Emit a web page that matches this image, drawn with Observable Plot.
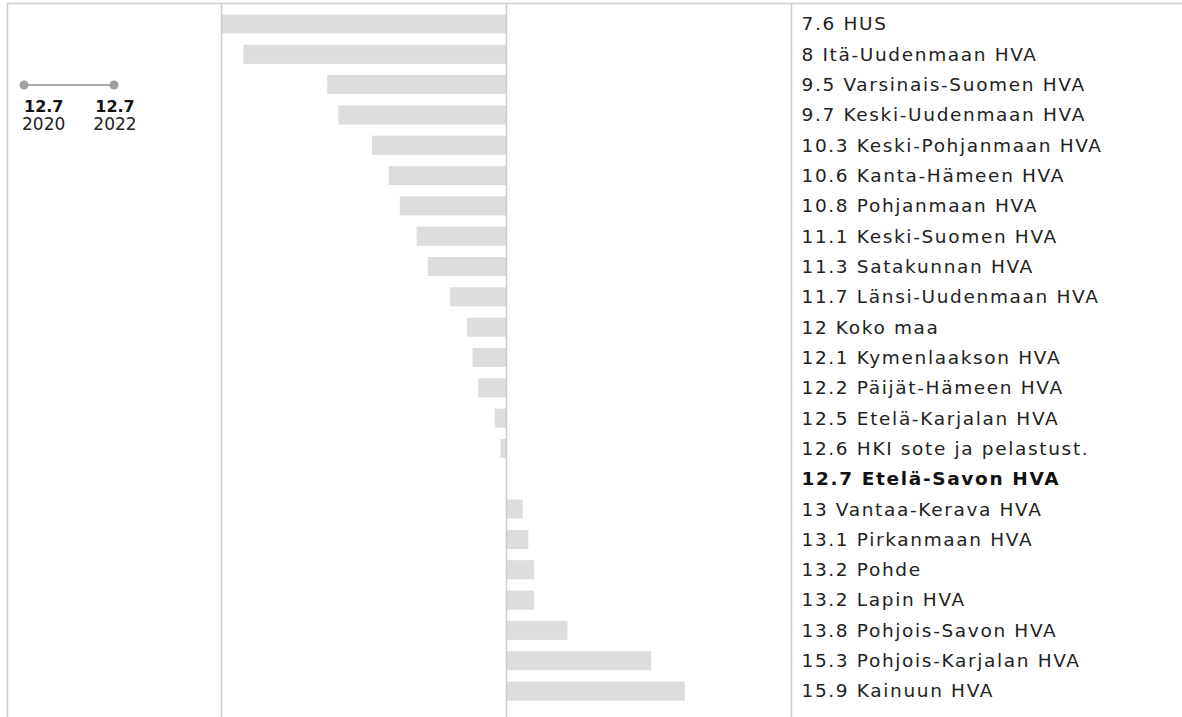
<!DOCTYPE html>
<html><head><meta charset="utf-8">
<script src="https://cdn.jsdelivr.net/npm/d3@7"></script>
<script src="https://cdn.jsdelivr.net/npm/@observablehq/plot@0.6"></script>
<style>
body{margin:0;background:#fff;}
#chart{position:relative;width:1182px;height:717px;overflow:hidden;}
</style></head><body><div id="chart"></div>
<script>
const names = ["HUS","Itä-Uudenmaan HVA","Varsinais-Suomen HVA","Keski-Uudenmaan HVA","Keski-Pohjanmaan HVA","Kanta-Hämeen HVA","Pohjanmaan HVA","Keski-Suomen HVA","Satakunnan HVA","Länsi-Uudenmaan HVA","Koko maa","Kymenlaakson HVA","Päijät-Hämeen HVA","Etelä-Karjalan HVA","HKI sote ja pelastust.","Etelä-Savon HVA","Vantaa-Kerava HVA","Pirkanmaan HVA","Pohde","Lapin HVA","Pohjois-Savon HVA","Pohjois-Karjalan HVA","Kainuun HVA"];
const values = [7.6,8,9.5,9.7,10.3,10.6,10.8,11.1,11.3,11.7,12,12.1,12.2,12.5,12.6,12.7,13,13.1,13.2,13.2,13.8,15.3,15.9];
const highlight = "Etelä-Savon HVA";
const legendYears = [2020, 2022];
const legendValues = [12.7, 12.7];

const ref = values[names.indexOf(highlight)];
const maxDev = d3.max(values, v => Math.abs(v - ref));
const data = names.map((n, i) => ({name: n, value: values[i]}));
const label = d => `${d.value} ${d.name}`;

const plot = Plot.plot({
  width: 1182, height: 717,
  marginLeft: 221, marginRight: 391, marginTop: 3, marginBottom: 0,
  style: {fontFamily: "DejaVu Sans", background: "#fff"},
  x: {domain: [ref - maxDev, ref + maxDev], axis: null},
  y: {domain: names, range: [3.2, 711.8], padding: 0.37, round: false, axis: null},
  marks: [
    Plot.barX(data, {y: "name", x1: ref, x2: "value", fill: "#dddddd"}),
    Plot.ruleX([ref - maxDev, ref, ref + maxDev], {stroke: "#cccccc", strokeWidth: 1.5}),
    Plot.text(data.filter(d => d.name !== highlight), {y: "name", x: ref + maxDev, dx: 10, textAnchor: "start", text: label, fontSize: 18.5, fill: "#222"}),
    Plot.text(data.filter(d => d.name === highlight), {y: "name", x: ref + maxDev, dx: 10, textAnchor: "start", text: label, fontSize: 18.5, fontWeight: "bold", fill: "#111"})
  ]
});
document.getElementById("chart").appendChild(plot);

const svg = d3.select(plot);
// wider letter spacing on the value labels
svg.selectAll("g[aria-label='text']").attr("letter-spacing", "1.65px");

// decorative frame lines and legend
svg.append("line").attr("x1", 7).attr("x2", 1182).attr("y1", 3.5).attr("y2", 3.5).attr("stroke", "#cccccc").attr("stroke-width", 1.5);
svg.append("line").attr("x1", 7.5).attr("x2", 7.5).attr("y1", 3).attr("y2", 717).attr("stroke", "#cccccc").attr("stroke-width", 1.5);

const lx = d3.scaleLinear().domain(legendYears).range([24, 114]);
const lg = svg.append("g").attr("font-family", "DejaVu Sans");
lg.append("line").attr("x1", lx(legendYears[0])).attr("x2", lx(legendYears[1])).attr("y1", 85).attr("y2", 85).attr("stroke", "#aaaaaa").attr("stroke-width", 2);
legendYears.forEach((yr, i) => {
  lg.append("circle").attr("cx", lx(yr)).attr("cy", 85).attr("r", 4.5).attr("fill", "#a0a0a0");
  const anchor = i === 0 ? "start" : "middle";
  const tx = i === 0 ? lx(yr) : lx(yr) + 1;
  lg.append("text").attr("x", tx).attr("y", 111.5).attr("text-anchor", anchor).attr("font-size", 16).attr("font-weight", "bold").attr("fill", "#111").text(legendValues[i]);
  lg.append("text").attr("x", i === 0 ? tx - 2 : tx).attr("y", 130).attr("text-anchor", anchor).attr("font-size", 17).attr("fill", "#222").text(yr);
});
</script></body></html>
